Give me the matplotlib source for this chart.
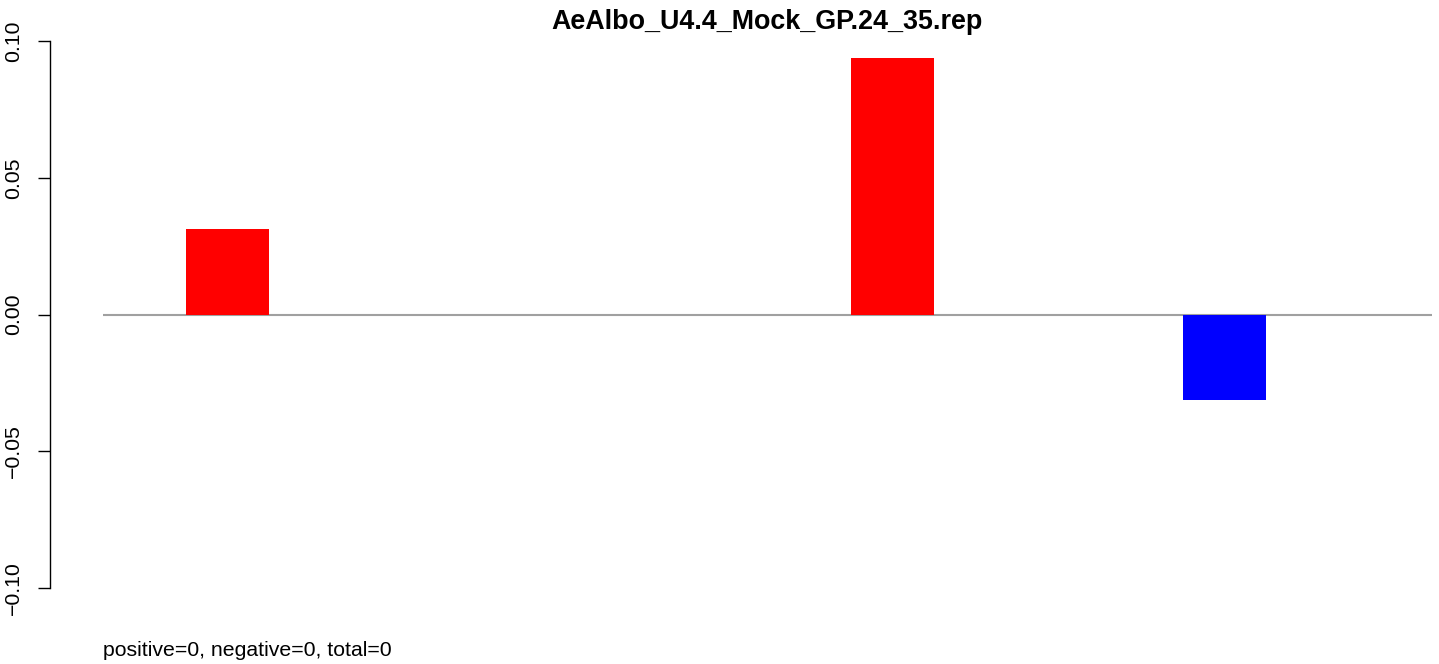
import matplotlib
matplotlib.use("Agg")
import matplotlib.pyplot as plt

plt.rcParams['font.family'] = ['Liberation Sans', 'DejaVu Sans']

# data
title = "AeAlbo_U4.4_Mock_GP.24_35.rep"
values = [0.03125, 0.0, 0.09375, -0.03125]
yticks = [-0.10, -0.05, 0.00, 0.05, 0.10]
ytick_labels = ["\u22120.10", "\u22120.05", "0.00", "0.05", "0.10"]
footer = "positive=0, negative=0, total=0"

W, H = 1439, 664
fig = plt.figure(figsize=(W / 100, H / 100), dpi=100)
ax = fig.add_axes([103 / W, 1 - 609.5 / H, (1432 - 103) / W, (609.5 - 19.5) / H])

# R barplot style layout: width 1, gap 3, xlim 0..16
centers = [1.5 + 4 * i for i in range(len(values))]
colors = ['red' if v >= 0 else 'blue' for v in values]
ax.axhline(0, color='#a0a0a0', lw=1.5, zorder=1)
ax.bar(centers, values, width=1.0, color=colors, zorder=2)

ax.set_xlim(0, 16)
ax.set_ylim(-0.108, 0.108)

for s in ['top', 'right', 'bottom']:
    ax.spines[s].set_visible(False)
ax.spines['left'].set_position(('outward', 38.2))  # 53 px at 100 dpi
ax.spines['left'].set_bounds(-0.10, 0.10)
ax.spines['left'].set_linewidth(1.0)
ax.set_xticks([])
ax.set_yticks(yticks)
ax.set_yticklabels(ytick_labels, rotation=90, va='center', fontsize=15.3)
ax.tick_params(axis='y', length=8.6, width=1.0, pad=11)

fig.text((103 + 1432) / 2 / W, 1 - 22 / H, title, ha='center', va='center',
         fontsize=19.4, fontweight='bold')
fig.text(103 / W, 1 - 650 / H, footer, ha='left', va='center', fontsize=15.3)

fig.savefig("out.png", dpi=100)
